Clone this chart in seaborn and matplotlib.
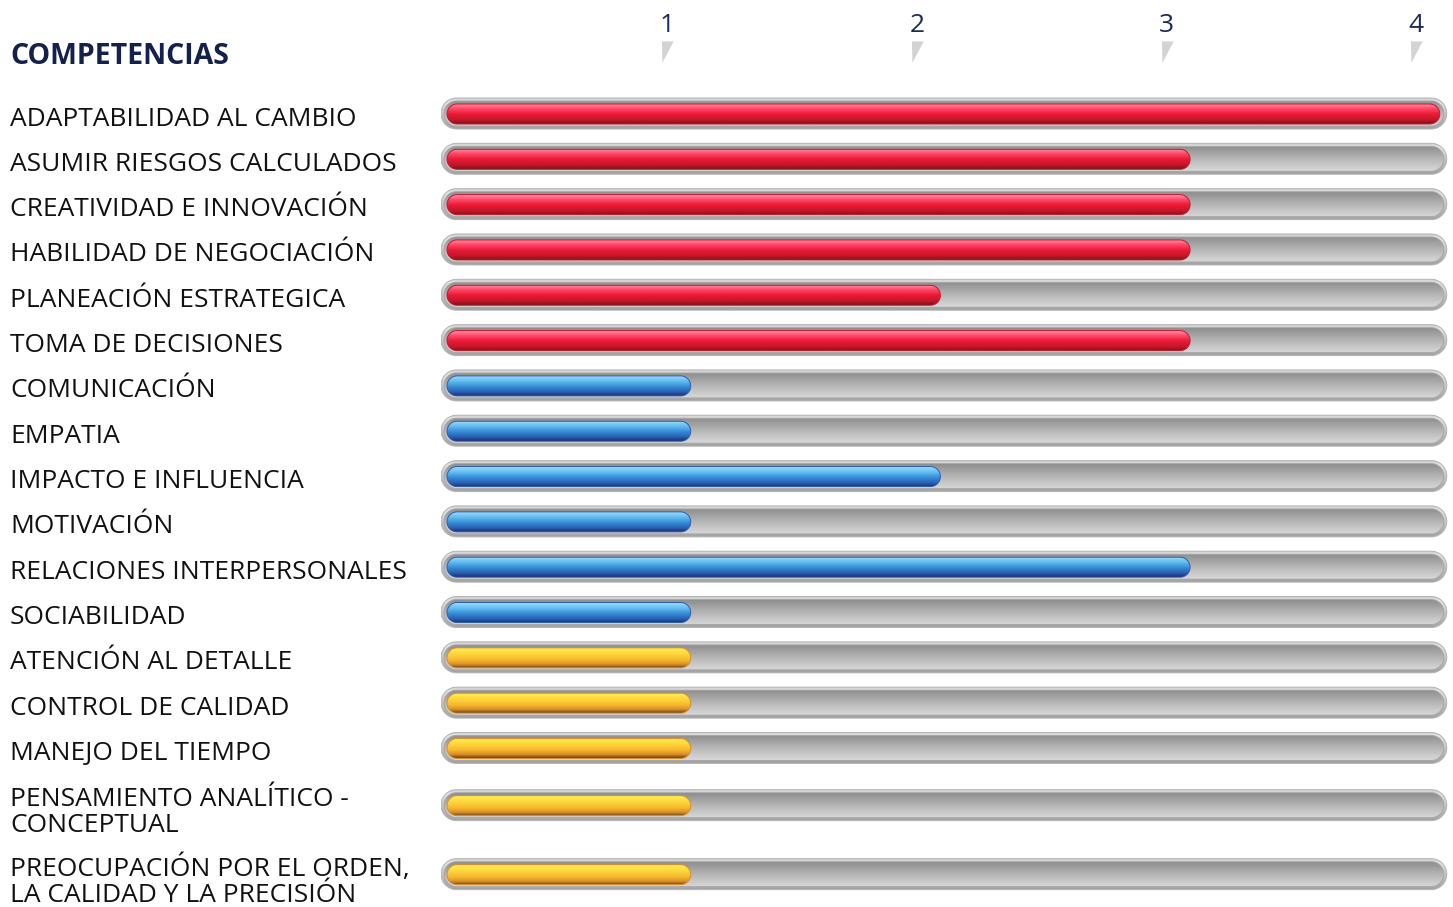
import numpy as np
import pandas as pd
import matplotlib
matplotlib.use("Agg")
import matplotlib.pyplot as plt
import seaborn as sns
from matplotlib.colors import LinearSegmentedColormap
from matplotlib.patches import Polygon, Rectangle
from matplotlib.path import Path

# ---------------- data ----------------
competencias = [
    "ADAPTABILIDAD AL CAMBIO",
    "ASUMIR RIESGOS CALCULADOS",
    "CREATIVIDAD E INNOVACIÓN",
    "HABILIDAD DE NEGOCIACIÓN",
    "PLANEACIÓN ESTRATEGICA",
    "TOMA DE DECISIONES",
    "COMUNICACIÓN",
    "EMPATIA",
    "IMPACTO E INFLUENCIA",
    "MOTIVACIÓN",
    "RELACIONES INTERPERSONALES",
    "SOCIABILIDAD",
    "ATENCIÓN AL DETALLE",
    "CONTROL DE CALIDAD",
    "MANEJO DEL TIEMPO",
    "PENSAMIENTO ANALÍTICO -\nCONCEPTUAL",
    "PREOCUPACIÓN POR EL ORDEN,\nLA CALIDAD Y LA PRECISIÓN",
]
valores = [4, 3, 3, 3, 2, 3, 1, 1, 2, 1, 3, 1, 1, 1, 1, 1, 1]
grupos = ["rojo"] * 6 + ["azul"] * 6 + ["amarillo"] * 5
escala = [1, 2, 3, 4]
titulo = "COMPETENCIAS"

# ---------------- style ----------------
sns.set_theme(style="white")
plt.rcParams["font.family"] = ["Open Sans", "DejaVu Sans"]

base_colors = {"rojo": "#e8192c", "azul": "#3a8fd8", "amarillo": "#f5c030"}
gradients = {
    "rojo": [(0.0, "#ff8aa2"), (0.22, "#ff4a6a"), (0.5, "#ec1a36"), (0.78, "#c8162a"), (1.0, "#7a1616")],
    "azul": [(0.0, "#9ad9fb"), (0.25, "#62bdf0"), (0.55, "#3489d3"), (0.8, "#2a5fb0"), (1.0, "#1c2d74")],
    "amarillo": [(0.0, "#ffec55"), (0.3, "#fdd63a"), (0.6, "#f6b82e"), (0.82, "#d98f28"), (1.0, "#6e4416")],
}
track_outer = [(0.0, "#cfcfcf"), (0.12, "#e4e4e4"), (0.5, "#c4c4c4"), (1.0, "#a2a2a2")]
track_inner = [(0.0, "#8e8e8e"), (0.5, "#b6b6b6"), (1.0, "#d8d8d8")]

W, H = 1453, 907
AX_L = 441
fig = plt.figure(figsize=(W / 100, H / 100), dpi=100)
ax = fig.add_axes([AX_L / W, 0, 1 - AX_L / W, 1])

# row layout (pixel units on the y axis)
ROW1, ROW2, FIRST = 45.32, 69.0, 113.5
ypos, prev = [], None
for lab in competencias:
    h = ROW1 if lab.count("\n") == 0 else ROW2
    ypos.append(FIRST if prev is None else ypos[-1] + (prev + h) / 2)
    prev = h

df = pd.DataFrame({"competencia": competencias, "valor": valores,
                   "grupo": grupos, "y": ypos})

sns.barplot(data=df, x="valor", y="y", hue="grupo", orient="h",
            native_scale=True, dodge=False, palette=base_colors,
            saturation=1, legend=False, ax=ax)

XR = 4.053
ax.set_xlim(0, XR)
ax.set_ylim(H, 0)
ppu = (W - AX_L) / XR  # pixels per data unit

def rounded(x0, x1, yc, hpx):
    r = hpx / 2.0
    rx = r / ppu
    t = np.linspace(-np.pi / 2, np.pi / 2, 40)
    right = np.c_[x1 - rx + rx * np.cos(t), yc + r * np.sin(t)]
    t2 = np.linspace(np.pi / 2, 3 * np.pi / 2, 40)
    left = np.c_[x0 + rx + rx * np.cos(t2), yc + r * np.sin(t2)]
    return np.vstack([right, left])

def grad_bar(x0, x1, yc, hpx, stops, z, edge):
    poly = Polygon(rounded(x0, x1, yc, hpx), closed=True, facecolor="none",
                   edgecolor=edge, linewidth=0.7, zorder=z + 0.5)
    ax.add_patch(poly)
    cmap = LinearSegmentedColormap.from_list("g", stops)
    arr = cmap(np.linspace(0, 1, 96))[:, None, :]
    im = ax.imshow(arr, extent=(x0, x1, yc + hpx / 2, yc - hpx / 2),
                   origin="upper", aspect="auto", interpolation="bilinear",
                   zorder=z)
    im.set_clip_path(poly)

bars = [p for p in ax.patches if isinstance(p, Rectangle)]
track_end = max(escala) + 7 / ppu
yarr = np.asarray(ypos)
for p in bars:
    if p.get_width() <= 0:
        continue
    yc = p.get_y() + p.get_height() / 2
    v = p.get_x() + p.get_width()
    g = df["grupo"].iloc[int(np.argmin(np.abs(yarr - yc)))]
    p.set_visible(False)
    grad_bar(0, track_end, yc, 31, track_outer, 2, "#b4b4b4")
    grad_bar(3 / ppu, track_end - 3 / ppu, yc, 25, track_inner, 3, "#a8a8a8")
    grad_bar(6 / ppu, v, yc + 0.5, 20, gradients[g], 4, gradients[g][3][1])

ax.set_xlim(0, XR)
ax.set_ylim(H, 0)

# y labels (left aligned at x=10px), slightly below bar centres
label_y = [y + (2.5 if "\n" not in lab else 4.0) for y, lab in zip(ypos, competencias)]
ax.set_yticks(label_y, labels=competencias)
ax.tick_params(axis="y", length=0, pad=(AX_L - 10) * 0.72)
for lbl in ax.get_yticklabels():
    lbl.set_horizontalalignment("left")
    lbl.set_fontsize(19)
    lbl.set_color("#111111")
    lbl.set_linespacing(1.05)
ax.set_xticks([])
ax.set_xlabel("")
ax.set_ylabel("")
sns.despine(ax=ax, left=True, bottom=True)

# scale numbers on top
off = 23.5 / ppu
marker = Path([(-0.5, 0.9), (0.55, 0.9), (-0.45, -1.0), (-0.5, 0.9)],
              [Path.MOVETO, Path.LINETO, Path.LINETO, Path.CLOSEPOLY])
ax.scatter([t - off for t in escala], [51] * len(escala), marker=marker,
           s=260, color="#d3d3d3", linewidths=0, zorder=5)
for t in escala:
    ax.text(t - off, 25.5, str(t), ha="center", va="center", fontsize=19,
            color="#1b2a56", zorder=6)

fig.text(10 / W, 1 - 57 / H, titulo, ha="left", va="center",
         fontsize=20.5, fontweight="bold", color="#14214d")

fig.savefig("out.png", dpi=100)
